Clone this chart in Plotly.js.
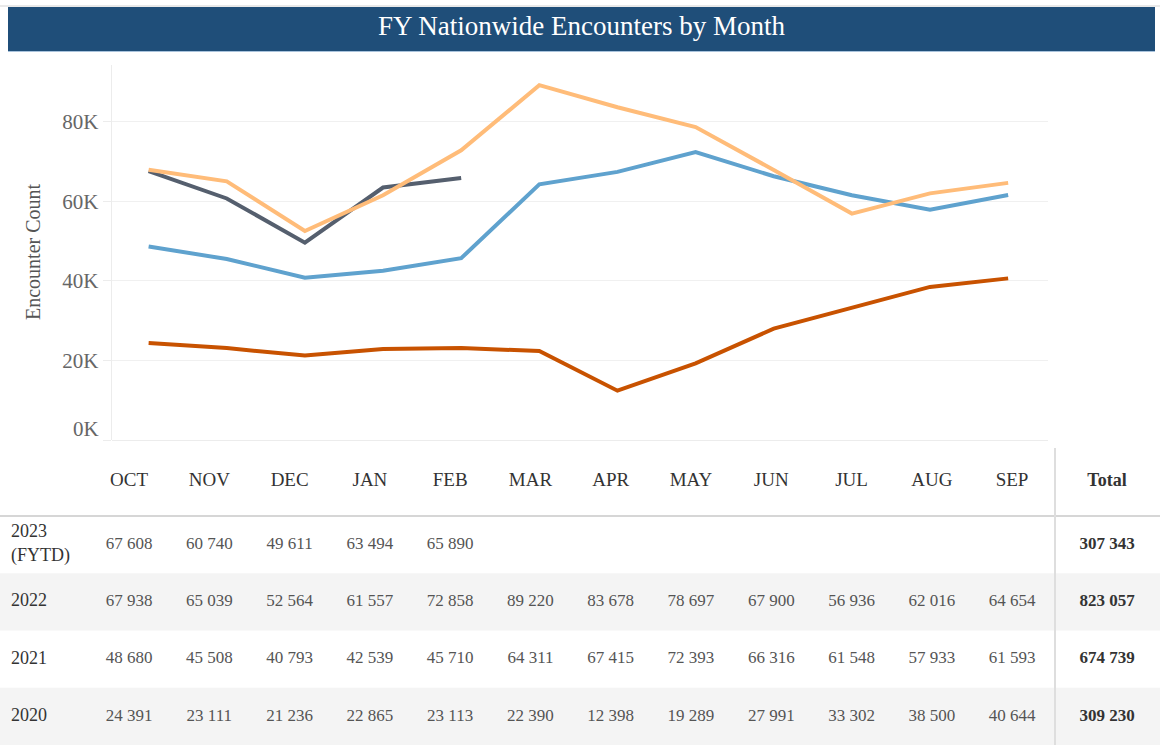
<!DOCTYPE html>
<html>
<head>
<meta charset="utf-8">
<script src="https://cdn.plot.ly/plotly-3.0.1.min.js"></script>
<style>html,body{margin:0;padding:0;background:#fff;}#chart{width:1160px;height:745px;}</style>
</head>
<body>
<div id="chart"></div>
<script>
// ---- data ----
var months = ['OCT','NOV','DEC','JAN','FEB','MAR','APR','MAY','JUN','JUL','AUG','SEP'];
var rowLabels = ['2023<br>(FYTD)', '2022', '2021', '2020'];
var fy2023 = [67608, 60740, 49611, 63494, 65890, null, null, null, null, null, null, null];
var fy2022 = [67938, 65039, 52564, 61557, 72858, 89220, 83678, 78697, 67900, 56936, 62016, 64654];
var fy2021 = [48680, 45508, 40793, 42539, 45710, 64311, 67415, 72393, 66316, 61548, 57933, 61593];
var fy2020 = [24391, 23111, 21236, 22865, 23113, 22390, 12398, 19289, 27991, 33302, 38500, 40644];
var yTickVals = [0, 20000, 40000, 60000, 80000];
var yTickText = ['0K', '20K', '40K', '60K', '80K'];
var titleText = 'FY Nationwide Encounters by Month';
var yTitleText = 'Encounter Count';
var totalLabel = 'Total';

// ---- helpers / styles ----
var W = 1160, H = 745;
var FONT = '"Liberation Serif", "Times New Roman", Times, serif';
function px2paperX(p) { return p / W; }
function px2paperY(p) { return 1 - p / H; }
function fmt(n) { return n.toLocaleString('en-US').replace(/,/g, ' '); }
function sum(a) { return a.reduce(function (s, v) { return s + (v || 0); }, 0); }

var series = [
  { name: '2020', y: fy2020, color: '#c85200' },
  { name: '2021', y: fy2021, color: '#5fa2ce' },
  { name: '2023', y: fy2023, color: '#555f6e' },
  { name: '2022', y: fy2022, color: '#ffbc79' }
];

var traces = series.map(function (s) {
  return {
    type: 'scatter', mode: 'lines', x: months, y: s.y, name: s.name,
    line: { color: s.color, width: 4 }, connectgaps: false,
    hoverinfo: 'x+y+name', showlegend: false, xaxis: 'x', yaxis: 'y'
  };
});

// ---- table (on its own hidden axes) ----
var colW = 80.27, col0 = 129.1;       // month column width & OCT centre (px)
var rowH = 57.3, row0 = 544.6;        // row height & first row centre (px)
var tblTop = 447;
function cx(p) { return (p - col0) / colW; }
function ry(p) { return (p - row0) / rowH; }
var monthIdx = months.map(function (m, i) { return i; });
var totalX = cx(1107);
var headerY = ry(481);

var tableRows = [fy2023, fy2022, fy2021, fy2020];

traces.push({
  type: 'scatter', mode: 'text', x: monthIdx, y: monthIdx.map(function () { return headerY; }),
  text: months, textposition: 'middle center',
  textfont: { family: FONT, size: 19, color: '#333333' },
  xaxis: 'x2', yaxis: 'y2', hoverinfo: 'skip', showlegend: false, cliponaxis: false
});
traces.push({
  type: 'scatter', mode: 'text', x: [totalX], y: [headerY],
  text: ['<b>' + totalLabel + '</b>'], textposition: 'middle center',
  textfont: { family: FONT, size: 18, color: '#333333' },
  xaxis: 'x2', yaxis: 'y2', hoverinfo: 'skip', showlegend: false, cliponaxis: false
});
traces.push({
  type: 'scatter', mode: 'text', x: rowLabels.map(function () { return cx(11); }),
  y: rowLabels.map(function (r, k) { return k; }),
  text: rowLabels, textposition: 'middle right',
  textfont: { family: FONT, size: 18, color: '#333333' },
  xaxis: 'x2', yaxis: 'y2', hoverinfo: 'skip', showlegend: false, cliponaxis: false
});
tableRows.forEach(function (vals, k) {
  var xs = [], ys = [], ts = [];
  vals.forEach(function (v, i) { if (v !== null) { xs.push(i); ys.push(k); ts.push(fmt(v)); } });
  traces.push({
    type: 'scatter', mode: 'text', x: xs, y: ys, text: ts, textposition: 'middle center',
    textfont: { family: FONT, size: 17, color: '#555555' },
    xaxis: 'x2', yaxis: 'y2', hoverinfo: 'skip', showlegend: false, cliponaxis: false
  });
});
traces.push({
  type: 'scatter', mode: 'text', x: tableRows.map(function () { return totalX; }),
  y: tableRows.map(function (r, k) { return k; }),
  text: tableRows.map(function (r) { return '<b>' + fmt(sum(r)) + '</b>'; }),
  textposition: 'middle center',
  textfont: { family: FONT, size: 17, color: '#333333' },
  xaxis: 'x2', yaxis: 'y2', hoverinfo: 'skip', showlegend: false, cliponaxis: false
});

var shapes = [
  // title bar
  { type: 'line', xref: 'paper', yref: 'paper', x0: 0, x1: 1, y0: px2paperY(6), y1: px2paperY(6), line: { color: '#d3d3d3', width: 1 } },
  { type: 'rect', xref: 'paper', yref: 'paper', x0: px2paperX(8), x1: px2paperX(1155), y0: px2paperY(51), y1: px2paperY(7), fillcolor: '#1f4e79', line: { width: 0 } },
  { type: 'line', xref: 'paper', yref: 'paper', x0: px2paperX(8), x1: px2paperX(1155), y0: px2paperY(51.5), y1: px2paperY(51.5), line: { color: '#a9c3dc', width: 1 } },
  // table row fills
  { type: 'rect', xref: 'paper', yref: 'y2', x0: 0, x1: 1, y0: 0.5, y1: 1.5, fillcolor: '#f4f4f4', line: { width: 0 }, layer: 'below' },
  { type: 'rect', xref: 'paper', yref: 'y2', x0: 0, x1: 1, y0: 2.5, y1: 3.6, fillcolor: '#f4f4f4', line: { width: 0 }, layer: 'below' },
  // header separator
  { type: 'line', xref: 'paper', yref: 'y2', x0: 0, x1: 1, y0: -0.5, y1: -0.5, line: { color: '#d6d6d6', width: 2 } },
  // total column separator
  { type: 'line', xref: 'x2', yref: 'y2', x0: cx(1055), x1: cx(1055), y0: ry(448), y1: ry(746), line: { color: '#dedede', width: 2 } }
];

var TICKFONT = { family: FONT, size: 21, color: '#666666' };

var layout = {
  width: W, height: H,
  margin: { l: 0, r: 0, t: 0, b: 0, pad: 0 },
  paper_bgcolor: '#ffffff', plot_bgcolor: 'rgba(0,0,0,0)',
  showlegend: false,
  xaxis: {
    domain: [px2paperX(111.5), px2paperX(1048)], type: 'category', categoryorder: 'array', categoryarray: months,
    range: [-0.475, 11.51], showticklabels: false, showgrid: false, zeroline: false, showline: false, ticks: '', fixedrange: true
  },
  yaxis: {
    domain: [px2paperY(440), px2paperY(65)], range: [0, 94300],
    tickvals: yTickVals,
    // the bottom label is drawn lifted above the axis base (as in the reference), via an annotation below
    ticktext: yTickText.map(function (t, i) { return yTickVals[i] === 0 ? '' : t; }),
    tickfont: TICKFONT,
    showgrid: true, gridcolor: '#f0f0f0', gridwidth: 1,
    zeroline: true, zerolinecolor: '#ececec', zerolinewidth: 1,
    showline: true, linecolor: '#ececec', linewidth: 1,
    ticks: 'outside', ticklen: 8, tickcolor: '#ececec', automargin: false, fixedrange: true
  },
  xaxis2: {
    domain: [0, 1], range: [cx(0), cx(W)], visible: false, fixedrange: true, anchor: 'y2'
  },
  yaxis2: {
    domain: [0, px2paperY(tblTop)], range: [ry(H), ry(tblTop)], visible: false, fixedrange: true, anchor: 'x2'
  },
  shapes: shapes,
  annotations: [
    { text: titleText, xref: 'paper', yref: 'paper', x: px2paperX(582), y: px2paperY(26), xanchor: 'center', yanchor: 'middle',
      showarrow: false, font: { family: FONT, size: 27, color: '#ffffff' } },
    { text: yTitleText, xref: 'paper', yref: 'paper', x: px2paperX(33), y: px2paperY(252), xanchor: 'center', yanchor: 'middle',
      textangle: -90, showarrow: false, font: { family: FONT, size: 20, color: '#555555' } },
    { text: yTickText[yTickVals.indexOf(0)], xref: 'paper', yref: 'y', x: px2paperX(101), y: 0, yshift: 11,
      xanchor: 'right', yanchor: 'middle', showarrow: false, font: TICKFONT }
  ]
};

Plotly.newPlot('chart', traces, layout, { displayModeBar: false });
</script>
</body>
</html>
